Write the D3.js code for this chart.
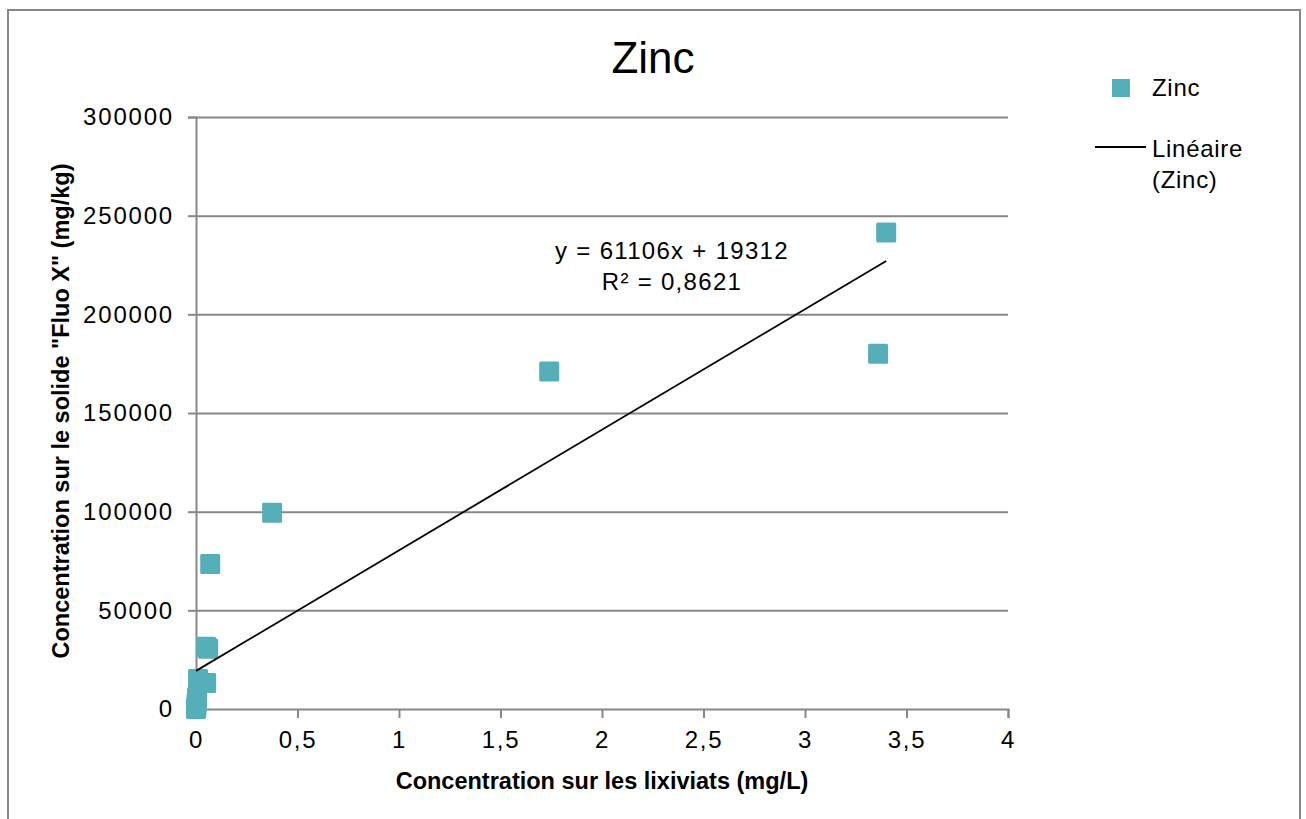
<!DOCTYPE html>
<html>
<head>
<meta charset="utf-8">
<script src="https://cdn.jsdelivr.net/npm/d3@7"></script>
<style>
  body { margin: 0; background: #fff; }
  text { font-family: "Liberation Sans", Arial, sans-serif; fill: #000; }
  .tick text { font-size: 24px; letter-spacing: 1.8px; }
  .axis-title { font-family: "Liberation Sans Narrow", "Liberation Sans", sans-serif; font-weight: bold; font-size: 23.5px; }
  .eq { font-size: 24px; letter-spacing: 1.3px; }
  .leg { font-size: 24px; letter-spacing: 0.7px; }
</style>
</head>
<body>
<script>
// chart values
var xVals = [3.40, 3.36, 1.74, 0.375, 0.07, 0.05, 0.06, 0.05, 0.01, 0.005, 0.003, 0.002, 0];
var yVals = [241500, 180000, 171000, 99500, 73500, 31500, 30500, 13200, 15200, 6000, 3000, 1000, 0];
var xTicks = [0, 0.5, 1, 1.5, 2, 2.5, 3, 3.5, 4];
var yTicks = [0, 50000, 100000, 150000, 200000, 250000, 300000];
var slope = 61106, intercept = 19312;
var equationLines = ["y = 61106x + 19312", "R\u00b2 = 0,8621"];

var width = 1306,
    height = 819;

var x = d3.scaleLinear().domain([0, 4]).range([196, 1008]);
var y = d3.scaleLinear().domain([0, 300000]).range([709, 117]);

var svg = d3.select("body").append("svg")
    .attr("width", width)
    .attr("height", height);

// outer frame (bottom edge runs off the page)
svg.append("rect")
    .attr("x", 8)
    .attr("y", 10)
    .attr("width", 1292)
    .attr("height", 830)
    .attr("fill", "none")
    .attr("stroke", "#878787")
    .attr("stroke-width", 2);

// title
svg.append("text")
    .attr("x", 653)
    .attr("y", 73)
    .attr("text-anchor", "middle")
    .style("font-size", "44px")
    .text("Zinc");

// y axis with gridlines
var yAxis = svg.append("g")
    .attr("transform", "translate(196,0)")
    .call(d3.axisLeft(y).tickValues(yTicks).tickSize(8).tickPadding(14).tickFormat(d3.format("d")));
yAxis.select(".domain").attr("stroke", "#878787").attr("stroke-width", 2);
yAxis.selectAll(".tick line").attr("stroke", "#878787").attr("stroke-width", 2);
yAxis.selectAll(".tick").filter(function (d) { return d > 0; })
    .append("line")
    .attr("x1", 0)
    .attr("x2", 812)
    .attr("stroke", "#878787")
    .attr("stroke-width", 2);

// x axis
var fmt = function (d) { return String(d).replace(".", ","); };
var xAxis = svg.append("g")
    .attr("transform", "translate(0,709)")
    .call(d3.axisBottom(x).tickValues(xTicks).tickSize(9).tickPadding(13).tickFormat(fmt));
xAxis.select(".domain").attr("stroke", "#878787").attr("stroke-width", 2);
xAxis.selectAll(".tick line").attr("stroke", "#878787").attr("stroke-width", 2);
xAxis.selectAll(".tick").filter(function (d) { return d === 0; }).select("line").remove();

// axis titles
svg.append("text")
    .attr("class", "axis-title")
    .attr("x", 602)
    .attr("y", 789)
    .attr("text-anchor", "middle")
    .text("Concentration sur les lixiviats (mg/L)");

svg.append("text")
    .attr("class", "axis-title")
    .attr("transform", "translate(69,411) rotate(-90)")
    .attr("text-anchor", "middle")
    .text("Concentration sur le solide \"Fluo X\" (mg/kg)");

// data points
var pts = xVals.map(function (d, i) { return [d, yVals[i]]; });
var ms = 20;
svg.append("g")
    .selectAll("rect")
    .data(pts)
    .enter()
    .append("rect")
    .attr("x", function (d) { return x(d[0]) - ms / 2; })
    .attr("y", function (d) { return y(d[1]) - ms / 2; })
    .attr("width", ms)
    .attr("height", ms)
    .attr("rx", 1.5)
    .attr("fill", "#55afb8");

// linear trendline over the data range
var xr = d3.extent(xVals);
svg.append("path")
    .datum(xr.map(function (v) { return [v, slope * v + intercept]; }))
    .attr("fill", "none")
    .attr("stroke", "#000")
    .attr("stroke-width", 1.8)
    .attr("d", d3.line().x(function (d) { return x(d[0]); }).y(function (d) { return y(d[1]); }));

// equation label
svg.append("g")
    .selectAll("text")
    .data(equationLines)
    .enter()
    .append("text")
    .attr("class", "eq")
    .attr("x", 672)
    .attr("y", function (d, i) { return 259 + i * 31; })
    .attr("text-anchor", "middle")
    .text(function (d) { return d; });

// legend
var legend = svg.append("g");
legend.append("rect")
    .attr("x", 1112)
    .attr("y", 79)
    .attr("width", 18)
    .attr("height", 18)
    .attr("fill", "#55afb8");
legend.append("text")
    .attr("class", "leg")
    .attr("x", 1152)
    .attr("y", 96)
    .text("Zinc");
legend.append("line")
    .attr("x1", 1095)
    .attr("x2", 1146)
    .attr("y1", 147)
    .attr("y2", 147)
    .attr("stroke", "#000")
    .attr("stroke-width", 1.8);
legend.append("text")
    .attr("class", "leg")
    .attr("x", 1152)
    .attr("y", 157)
    .text("Linéaire");
legend.append("text")
    .attr("class", "leg")
    .attr("x", 1152)
    .attr("y", 188)
    .text("(Zinc)");
</script>
</body>
</html>
